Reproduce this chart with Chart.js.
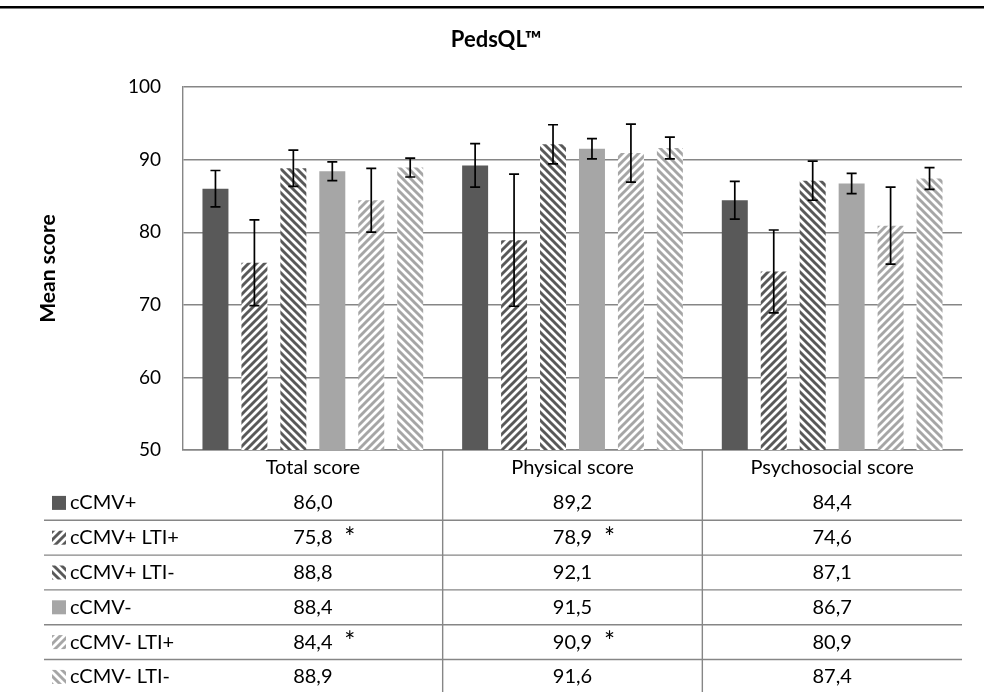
<!DOCTYPE html>
<html>
<head>
<meta charset="utf-8">
<script src="https://cdn.jsdelivr.net/npm/chart.js@4"></script>
<style>
  html, body { margin: 0; padding: 0; background: #fff; }
  #wrap { position: relative; width: 984px; height: 698px; }
</style>
</head>
<body>
<div id="wrap"><canvas id="pedsChart" width="984" height="698"></canvas></div>
<script>
// categories and groups
const categories = ['Total score', 'Physical score', 'Psychosocial score'];
const groupNames = ['cCMV+', 'cCMV+ LTI+', 'cCMV+ LTI-', 'cCMV-', 'cCMV- LTI+', 'cCMV- LTI-'];

// mean scores per group (Total, Physical, Psychosocial)
const cmvPos = [86.0, 89.2, 84.4];
const cmvPosLtiPos = [75.8, 78.9, 74.6];
const cmvPosLtiNeg = [88.8, 92.1, 87.1];
const cmvNeg = [88.4, 91.5, 86.7];
const cmvNegLtiPos = [84.4, 90.9, 80.9];
const cmvNegLtiNeg = [88.9, 91.6, 87.4];

// error bar half widths
const errCmvPos = [2.5, 3.0, 2.6];
const errCmvPosLtiPos = [5.9, 9.1, 5.7];
const errCmvPosLtiNeg = [2.5, 2.7, 2.7];
const errCmvNeg = [1.3, 1.4, 1.4];
const errCmvNegLtiPos = [4.4, 4.0, 5.3];
const errCmvNegLtiNeg = [1.3, 1.5, 1.5];

// significance marks (*) in the table
const starCmvPosLtiPos = [true, true, false];
const starCmvNegLtiPos = [true, true, false];
const noStars = [false, false, false];

const yTicks = [50, 60, 70, 80, 90, 100];

const FONT = 'Lato, "Open Sans", sans-serif';
const DARK = '#595959';
const LIGHT = '#a6a6a6';
const GRID = '#868686';

// diagonal stripe pattern, dir 1 = "/" and -1 = "\"
function stripes(color, dir) {
    const c = document.createElement('canvas');
    c.width = 8; c.height = 8;
    const g = c.getContext('2d');
    g.fillStyle = '#fff';
    g.fillRect(0, 0, 8, 8);
    g.strokeStyle = color;
    g.lineWidth = 2.9;
    g.beginPath();
    for (let k = -8; k <= 16; k += 8) {
        if (dir > 0) { g.moveTo(k - 8, 16); g.lineTo(k + 16, -8); }
        else { g.moveTo(k - 8, -8); g.lineTo(k + 16, 16); }
    }
    g.stroke();
    return g.createPattern(c, 'repeat');
}

const fills = [
    DARK,
    stripes(DARK, 1),
    stripes(DARK, -1),
    LIGHT,
    stripes(LIGHT, 1),
    stripes(LIGHT, -1)
];

const seriesData = [cmvPos, cmvPosLtiPos, cmvPosLtiNeg, cmvNeg, cmvNegLtiPos, cmvNegLtiNeg];
const seriesErr = [errCmvPos, errCmvPosLtiPos, errCmvPosLtiNeg, errCmvNeg, errCmvNegLtiPos, errCmvNegLtiNeg];
const seriesStars = [noStars, starCmvPosLtiPos, noStars, noStars, starCmvNegLtiPos, noStars];

const datasets = groupNames.map((name, i) => ({
    label: name,
    data: seriesData[i],
    errors: seriesErr[i],
    stars: seriesStars[i],
    backgroundColor: fills[i],
    borderWidth: 0,
    categoryPercentage: 0.9,
    barPercentage: 0.667
}));

// black line across the top of the figure
const topRule = {
    id: 'topRule',
    beforeDraw(chart) {
        const ctx = chart.ctx;
        ctx.save();
        ctx.fillStyle = '#000';
        ctx.fillRect(0, 6, chart.width, 2.5);
        ctx.restore();
    }
};

const errorBars = {
    id: 'errorBars',
    afterDatasetsDraw(chart) {
        const { ctx, scales: { y } } = chart;
        ctx.save();
        ctx.strokeStyle = '#000';
        ctx.lineWidth = 1.7;
        chart.data.datasets.forEach((ds, i) => {
            chart.getDatasetMeta(i).data.forEach((bar, j) => {
                const hi = y.getPixelForValue(ds.data[j] + ds.errors[j]);
                const lo = y.getPixelForValue(ds.data[j] - ds.errors[j]);
                ctx.beginPath();
                ctx.moveTo(bar.x, hi); ctx.lineTo(bar.x, lo);
                ctx.moveTo(bar.x - 5, hi); ctx.lineTo(bar.x + 5, hi);
                ctx.moveTo(bar.x - 5, lo); ctx.lineTo(bar.x + 5, lo);
                ctx.stroke();
            });
        });
        ctx.restore();
    }
};

// data table under the plot, legend keys on the left
const dataTable = {
    id: 'dataTable',
    afterDraw(chart) {
        const { ctx, chartArea, scales: { x } } = chart;
        const rowTop = 485.5, rowH = 34.8;
        ctx.save();
        ctx.strokeStyle = GRID;
        ctx.lineWidth = 1.4;
        // dividers between categories
        for (let j = 0; j < categories.length - 1; j++) {
            const xm = (x.getPixelForValue(j) + x.getPixelForValue(j + 1)) / 2;
            ctx.beginPath();
            ctx.moveTo(xm, chartArea.bottom);
            ctx.lineTo(xm, 692);
            ctx.stroke();
        }
        // row separators
        for (let i = 1; i < groupNames.length; i++) {
            const yy = rowTop + i * rowH;
            ctx.beginPath();
            ctx.moveTo(44, yy);
            ctx.lineTo(chartArea.right, yy);
            ctx.stroke();
        }
        ctx.textBaseline = 'middle';
        chart.data.datasets.forEach((ds, i) => {
            const yc = rowTop + rowH / 2 + i * rowH;
            ctx.fillStyle = ds.backgroundColor;
            ctx.fillRect(52, yc - 7, 14, 14);
            ctx.fillStyle = '#000';
            ctx.font = '20px ' + FONT;
            ctx.textAlign = 'left';
            ctx.fillText(ds.label, 70, yc);
            ds.data.forEach((v, j) => {
                const xc = x.getPixelForValue(j);
                ctx.font = '20px ' + FONT;
                ctx.textAlign = 'center';
                ctx.fillText(v.toFixed(1).replace('.', ','), xc, yc);
                if (ds.stars[j]) {
                    ctx.font = '26px ' + FONT;
                    ctx.fillText('*', xc + 37, yc + 1);
                }
            });
        });
        ctx.restore();
    }
};

new Chart(document.getElementById('pedsChart'), {
    type: 'bar',
    data: { labels: categories, datasets: datasets },
    plugins: [topRule, errorBars, dataTable],
    options: {
        responsive: false,
        animation: false,
        layout: { padding: { left: 8, right: 0, top: 0, bottom: 0 } },
        plugins: {
            legend: { display: false },
            tooltip: { enabled: false },
            title: {
                display: true,
                text: 'PedsQL™',
                color: '#000',
                font: { family: FONT, size: 22, weight: 'bold' },
                padding: { top: 26.8, bottom: 33.8 }
            }
        },
        scales: {
            x: {
                grid: { display: false },
                border: { display: true, color: GRID, width: 1.4 },
                ticks: { color: '#000', font: { family: FONT, size: 20 }, padding: -2 },
                afterFit(s) { s.height = 248; }
            },
            y: {
                min: 50,
                max: 100,
                afterBuildTicks(s) { s.ticks = yTicks.map(v => ({ value: v })); },
                grid: { color: GRID, lineWidth: 1.4, drawTicks: false },
                border: { display: true, color: GRID, width: 1.4 },
                ticks: { color: '#000', font: { family: FONT, size: 19 }, padding: 22 },
                title: {
                    display: true,
                    text: 'Mean score',
                    color: '#000',
                    font: { family: FONT, size: 21, weight: 'bold' },
                    padding: { top: 27.5, bottom: 0 }
                },
                afterFit(s) { s.width = 175; }
            },
            yRight: {
                position: 'right',
                display: true,
                grid: { display: false },
                border: { display: false },
                ticks: { display: false },
                afterFit(s) { s.width = 22; }
            }
        }
    }
});
</script>
</body>
</html>
